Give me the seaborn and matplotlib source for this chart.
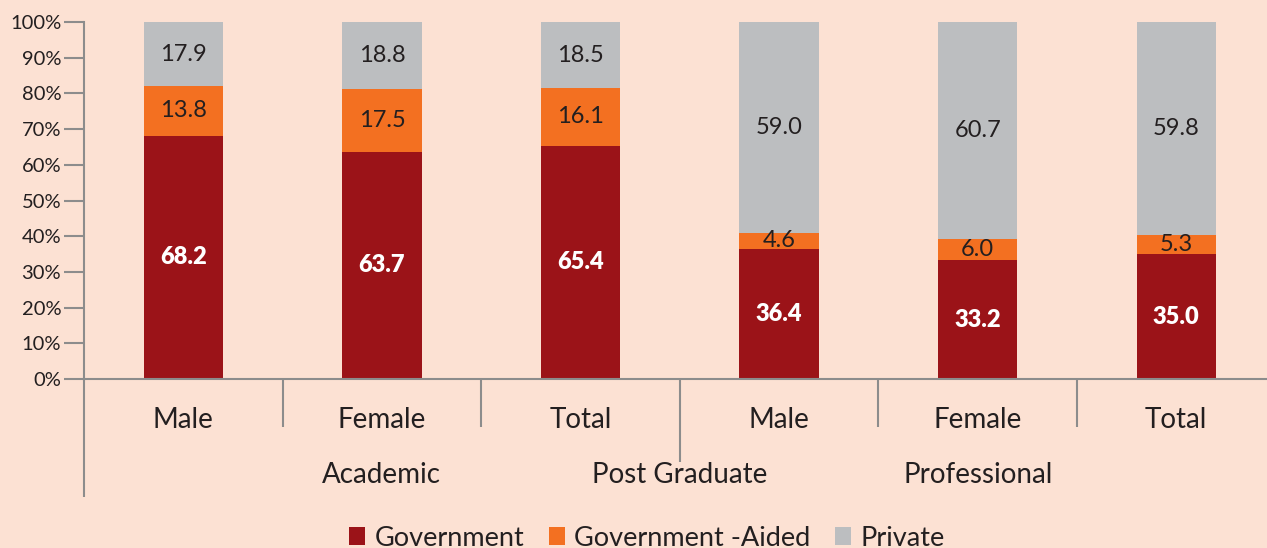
import matplotlib
matplotlib.use("Agg")
import matplotlib.pyplot as plt
from matplotlib.patches import Patch
from matplotlib.ticker import FixedLocator, FuncFormatter
import pandas as pd
import seaborn as sns

# Enrolment share by management type (%)
bar_ids = ["A-M", "A-F", "A-T", "P-M", "P-F", "P-T"]
sub_labels = ["Male", "Female", "Total", "Male", "Female", "Total"]
government = [68.2, 63.7, 65.4, 36.4, 33.2, 35.0]
govt_aided = [13.8, 17.5, 16.1, 4.6, 6.0, 5.3]
private = [17.9, 18.8, 18.5, 59.0, 60.7, 59.8]
group_labels = ["Academic", "Post Graduate", "Professional"]
group_positions = [1, 2.5, 4]
series_names = ["Government", "Government -Aided", "Private"]

BG = "#fce1d3"
C_GOV = "#9b1318"
C_AID = "#f37021"
C_PRI = "#bcbec0"
AXIS = "#8c8c8c"
TEXT = "#231f20"

df = pd.DataFrame({
    "bar": bar_ids,
    "gov": government,
    "aid": govt_aided,
    "pri": private,
})
df["gov_aid"] = df["gov"] + df["aid"]
df["all"] = df["gov_aid"] + df["pri"]

sns.set_theme(style="white")
plt.rcParams["font.family"] = ["Lato", "DejaVu Sans"]

fig = plt.figure(figsize=(12.67, 5.48), dpi=100, facecolor=BG)
ax = fig.add_axes([84 / 1267, 169 / 548, 1191.6 / 1267, 357 / 548])
ax.set_facecolor(BG)

# Stacked columns: draw cumulative heights back to front
for col, color in [("all", C_PRI), ("gov_aid", C_AID), ("gov", C_GOV)]:
    sns.barplot(data=df, x="bar", y=col, order=bar_ids, color=color,
                width=0.4, saturation=1, ax=ax, edgecolor="none")

# Segment value labels
for i, row in df.iterrows():
    ax.text(i, row["gov"] / 2, f"{row['gov']:.1f}", ha="center", va="center",
            color="white", fontsize=17, fontweight="heavy")
    ax.text(i, row["gov"] + row["aid"] / 2, f"{row['aid']:.1f}", ha="center",
            va="center", color=TEXT, fontsize=17)
    ax.text(i, row["gov_aid"] + row["pri"] / 2, f"{row['pri']:.1f}", ha="center",
            va="center", color=TEXT, fontsize=17)

ax.set_xlim(-0.5, 5.5)
ax.set_ylim(0, 100)
ax.set_xlabel("")
ax.set_ylabel("")

# Y axis
ax.set_yticks(range(0, 101, 10))
ax.yaxis.set_major_formatter(FuncFormatter(lambda v, _: f"{v:.0f}%"))
ax.tick_params(axis="y", direction="out", length=14.4, width=1.5, color=AXIS,
               labelsize=14.5, labelcolor=TEXT, pad=2, left=True)

# X axis: category labels without ticks, separators as minor ticks
ax.set_xticks(range(len(bar_ids)))
ax.set_xticklabels(sub_labels)
ax.tick_params(axis="x", which="major", length=0, pad=20, labelsize=20,
               labelcolor=TEXT)
ax.xaxis.set_minor_locator(FixedLocator([-0.5, 0.5, 1.5, 2.5, 3.5, 4.5]))
ax.tick_params(axis="x", which="minor", direction="out", length=34.5,
               width=1.5, color=AXIS, bottom=True)
minor_len = {-0.5: 85, 2.5: 60}
for loc, tick in zip(ax.xaxis.get_minorticklocs(), ax.xaxis.get_minor_ticks()):
    if loc in minor_len:
        tick.tick1line.set_markersize(minor_len[loc])

for side in ["top", "right"]:
    ax.spines[side].set_visible(False)
for side in ["left", "bottom"]:
    ax.spines[side].set_color(AXIS)
    ax.spines[side].set_linewidth(1.5)

# Group labels under the category labels
for label, pos in zip(group_labels, group_positions):
    ax.annotate(label, xy=(pos, 0), xycoords=("data", "axes fraction"),
                xytext=(0, -69), textcoords="offset points", ha="center",
                va="center", fontsize=20, color=TEXT, annotation_clip=False)

handles = [Patch(facecolor=c, edgecolor="none") for c in (C_GOV, C_AID, C_PRI)]
fig.legend(handles, series_names, loc="center", bbox_to_anchor=(647 / 1267, 10 / 548),
           ncol=3, frameon=False, fontsize=19.5, handlelength=0.6, handleheight=0.6,
           handletextpad=0.35, columnspacing=0.9, labelcolor=TEXT)

fig.savefig("out.png", dpi=100, facecolor=BG)
